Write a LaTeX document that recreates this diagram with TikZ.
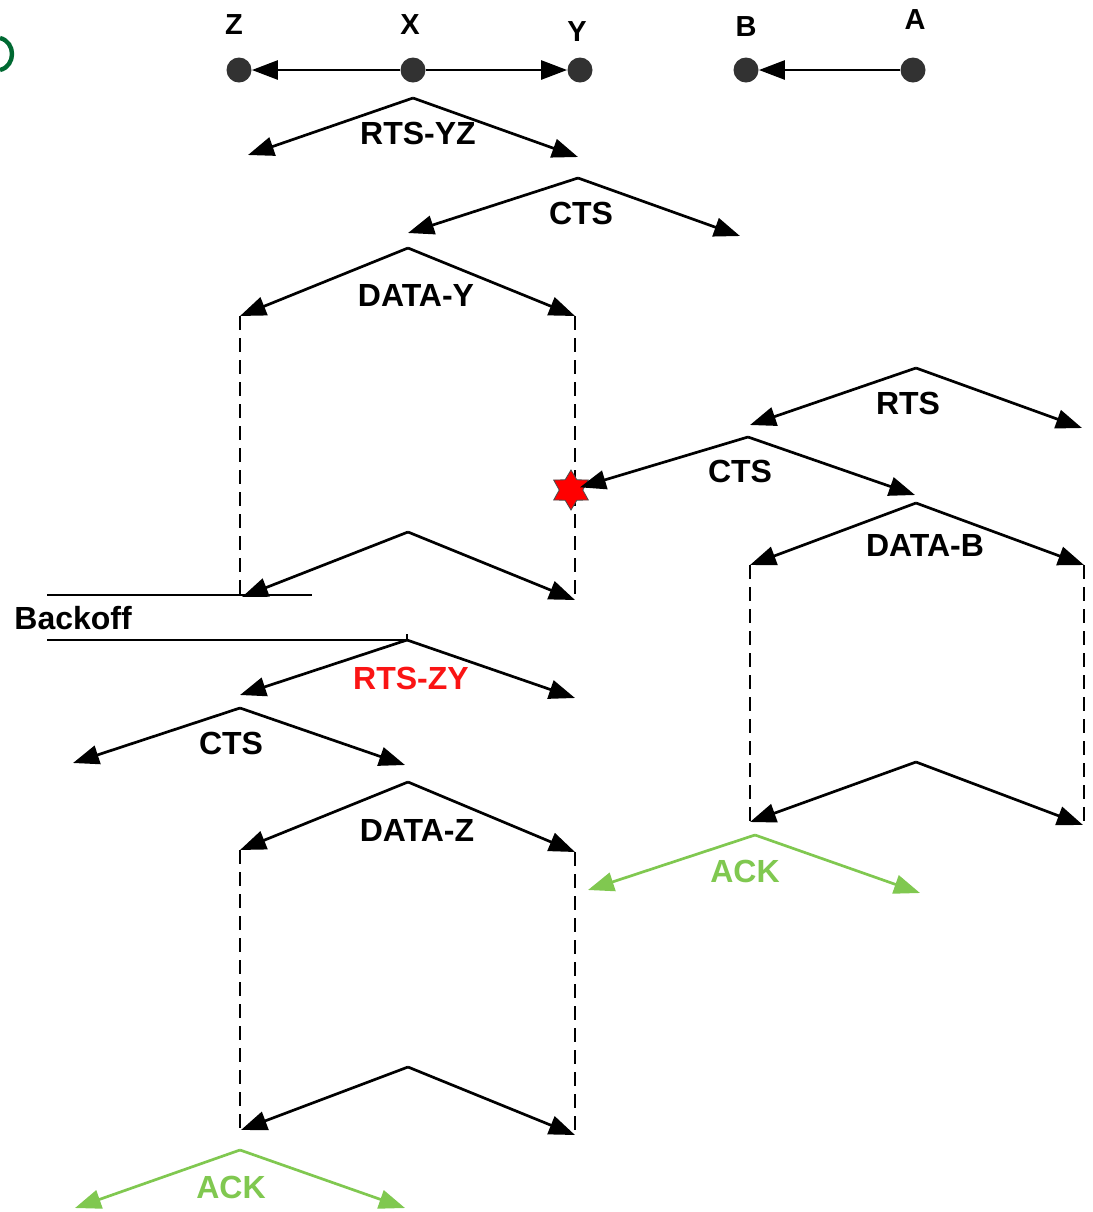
\documentclass[tikz,border=0pt]{standalone}
\usepackage{fontspec}
\setmainfont{Liberation Sans}
\usetikzlibrary{arrows.meta,shapes.geometric}
\definecolor{ackgreen}{RGB}{128,200,80}
\definecolor{dotgray}{RGB}{50,50,50}
\definecolor{msgred}{RGB}{250,20,20}
\definecolor{seal}{RGB}{0,105,50}
\tikzset{
  station/.style={circle,fill=dotgray,inner sep=0pt,minimum size=12.5pt},
  stlabel/.style={font=\bfseries\fontsize{14.5}{14.5}\selectfont},
  msg/.style={line width=1.35pt,-{Triangle[length=13pt,width=9.5pt]}},
  ackmsg/.style={msg,draw=ackgreen,color=ackgreen},
  tag/.style={font=\bfseries\fontsize{16}{16}\selectfont,inner sep=0pt},
  acktag/.style={tag,text=ackgreen},
  busy/.style={line width=0.8pt,dash pattern=on 7pt off 4pt},
  bar/.style={line width=1pt},
}
\begin{document}
\begin{tikzpicture}[x=0.5pt,y=-0.5pt]
\useasboundingbox (0,0) rectangle (1093,1212);
\fill[white] (0,0) rectangle (1093,1212);

% small green mark in the corner
\draw[seal,line width=2.2pt] (0,38) .. controls (16,42) and (16,66) .. (0,70);

% stations
\node[station] (Z) at (239,70) {};
\node[station] (X) at (413,70) {};
\node[station] (Y) at (580,70) {};
\node[station] (B) at (746,70) {};
\node[station] (A) at (913,70) {};
\node[stlabel] at (234,25) {Z};
\node[stlabel] at (410,25) {X};
\node[stlabel] at (577,32) {Y};
\node[stlabel] at (746,27) {B};
\node[stlabel] at (915,20) {A};
\draw[msg] (X) -- (Z);
\draw[msg] (X) -- (Y);
\draw[msg] (A) -- (B);

% RTS-YZ
\coordinate (r1) at (413,98);
\coordinate (r1l) at (248,155);
\coordinate (r1r) at (578,157);
\draw[msg] (r1) -- (r1l);
\draw[msg] (r1) -- (r1r);
\node[tag] at (418,133) {RTS-YZ};

% CTS from Y
\coordinate (c1) at (578,178);
\coordinate (c1l) at (408,233);
\coordinate (c1r) at (740,236);
\draw[msg] (c1) -- (c1l);
\draw[msg] (c1) -- (c1r);
\node[tag] at (581,213) {CTS};

% DATA-Y
\coordinate (d1) at (408,248);
\coordinate (d1l) at (240,316);
\coordinate (d1r) at (575,316);
\draw[msg] (d1) -- (d1l);
\draw[msg] (d1) -- (d1r);
\node[tag] at (416,295) {DATA-Y};
\coordinate (e1) at (408,532);
\coordinate (e1l) at (242,597);
\coordinate (e1r) at (575,600);
\draw[busy] (d1l) -- (240,597);
\draw[busy] (d1r) -- (575,600);
\draw[msg] (e1) -- (e1l);
\draw[msg] (e1) -- (e1r);

% RTS from A
\coordinate (r2) at (916,368);
\coordinate (r2l) at (750,425);
\coordinate (r2r) at (1082,428);
\draw[msg] (r2) -- (r2l);
\draw[msg] (r2) -- (r2r);
\node[tag] at (908,403) {RTS};

% CTS from B, colliding at Y
\node[star,star points=6,star point ratio=1.7,fill=red,draw=black!70,line width=0.4pt,
      minimum size=20pt,inner sep=0pt] (hit) at (571,490) {};
\coordinate (c2) at (748,437);
\coordinate (c2r) at (915,495);
\draw[msg,shorten >=-3pt] (c2) -- (hit);
\draw[msg] (c2) -- (c2r);
\node[tag] at (740,471) {CTS};

% DATA-B
\coordinate (d2) at (916,503);
\coordinate (d2l) at (750,565);
\coordinate (d2r) at (1084,565);
\draw[msg] (d2) -- (d2l);
\draw[msg] (d2) -- (d2r);
\node[tag] at (925,545) {DATA-B};
\coordinate (e2) at (916,762);
\coordinate (e2l) at (750,822);
\coordinate (e2r) at (1083,825);
\draw[busy] (d2l) -- (750,822);
\draw[busy] (d2r) -- (1084,825);
\draw[msg] (e2) -- (e2l);
\draw[msg] (e2) -- (e2r);

% ACK from A
\coordinate (k1) at (755,835);
\coordinate (k1l) at (588,890);
\coordinate (k1r) at (920,893);
\draw[ackmsg] (k1) -- (k1l);
\draw[ackmsg] (k1) -- (k1r);
\node[acktag] at (745,871) {ACK};

% backoff window
\coordinate (bo1a) at (47,595);
\coordinate (bo1b) at (312,595);
\coordinate (bo2a) at (47,640);
\coordinate (bo2b) at (407,640);
\draw[bar] (bo1a) -- (bo1b);
\draw[bar] (bo2a) -- (bo2b);
\draw[line width=0.6pt] (407,634) -- (bo2b);
\node[tag,anchor=west] at (14,618) {Backoff};

% RTS-ZY
\coordinate (r3) at (407,640);
\coordinate (r3l) at (240,695);
\coordinate (r3r) at (575,698);
\draw[msg] (r3) -- (r3l);
\draw[msg] (r3) -- (r3r);
\node[tag,text=msgred] at (411,678) {RTS-ZY};

% CTS from Y
\coordinate (c3) at (240,708);
\coordinate (c3l) at (73,763);
\coordinate (c3r) at (405,765);
\draw[msg] (c3) -- (c3l);
\draw[msg] (c3) -- (c3r);
\node[tag] at (231,743) {CTS};

% DATA-Z
\coordinate (d3) at (408,782);
\coordinate (d3l) at (240,850);
\coordinate (d3r) at (575,852);
\draw[msg] (d3) -- (d3l);
\draw[msg] (d3) -- (d3r);
\node[tag] at (417,830) {DATA-Z};
\coordinate (e3) at (408,1067);
\coordinate (e3l) at (241,1130);
\coordinate (e3r) at (575,1135);
\draw[busy] (d3l) -- (240,1130);
\draw[busy] (d3r) -- (575,1135);
\draw[msg] (e3) -- (e3l);
\draw[msg] (e3) -- (e3r);

% ACK from Y
\coordinate (k2) at (240,1150);
\coordinate (k2l) at (75,1208);
\coordinate (k2r) at (405,1208);
\draw[ackmsg] (k2) -- (k2l);
\draw[ackmsg] (k2) -- (k2r);
\node[acktag] at (231,1187) {ACK};
\end{tikzpicture}
\end{document}
